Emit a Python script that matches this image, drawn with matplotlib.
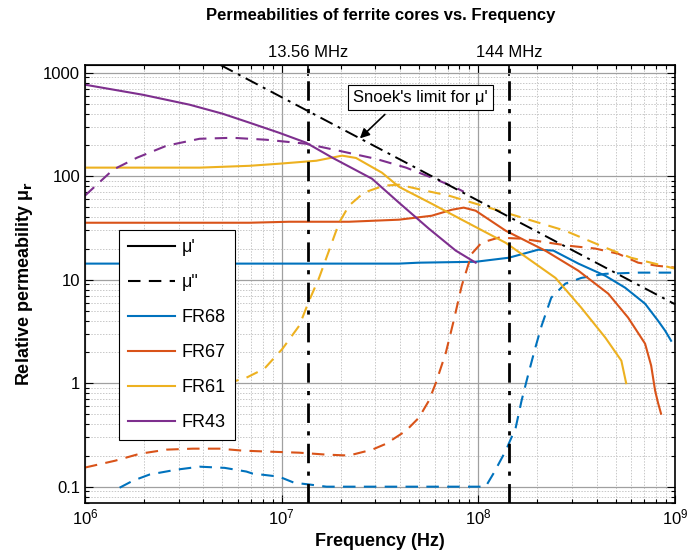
import numpy as np
import matplotlib
matplotlib.use('Agg')
import matplotlib.pyplot as plt
from matplotlib.lines import Line2D

plt.rcParams['font.family'] = ['Liberation Sans', 'DejaVu Sans']
plt.rcParams['mathtext.fontset'] = 'dejavusans'

# colours (MATLAB default order)
c_fr68 = '#0072BD'
c_fr67 = '#D95319'
c_fr61 = '#EDB120'
c_fr43 = '#7E2F8E'

# FR68
fr68_f1 = [1e6, 1.23e7, 3.95e7, 4.99e7, 9.7e7, 1.43e8, 2.02e8, 2.41e8, 3.23e8,
           4.43e8, 5.58e8, 7.05e8, 8.2e8, 8.91e8, 9.56e8]
fr68_mu1 = [14.3, 14.3, 14.3, 14.6, 14.9, 16.3, 19.5, 19.1, 14.3,
            10.9, 8.37, 5.86, 4.02, 3.22, 2.57]
fr68_f2 = [1.5e6, 1.75e6, 2.13e6, 2.92e6, 3.83e6, 5.13e6, 6.62e6, 7.1e6, 9.7e6,
           1.16e7, 1.38e7, 1.69e7, 1.09e8, 1.2e8, 1.38e8, 1.55e8, 1.66e8, 1.8e8,
           1.95e8, 2.1e8, 2.35e8, 2.77e8, 3.34e8, 4.43e8, 6.5e8, 1e9]
fr68_mu2 = [0.0977, 0.114, 0.131, 0.146, 0.156, 0.152, 0.14, 0.134, 0.125,
            0.109, 0.105, 0.1, 0.1, 0.136, 0.223, 0.372, 0.678, 1.24,
            2.2, 3.6, 6.7, 9.15, 10.4, 11.4, 11.7, 11.7]

# FR67
fr67_f1 = [1e6, 6.86e6, 1.09e7, 2.2e7, 3.95e7, 5.8e7, 7.33e7, 8.43e7, 9.7e7,
           1.38e8, 2.2e8, 3.23e8, 4.58e8, 5.78e8, 7.05e8, 7.57e8, 7.93e8, 8.2e8, 8.5e8]
fr67_mu1 = [35.5, 35.5, 36.3, 36.3, 38, 41.5, 47.4, 49.7, 46.4,
            29.7, 19, 12.2, 7.33, 4.3, 2.41, 1.48, 0.847, 0.649, 0.507]
fr67_f2 = [1e6, 1.42e6, 1.9e6, 2.6e6, 3.53e6, 4.83e6, 6.32e6, 8.67e6, 1.23e7,
           1.69e7, 2.2e7, 2.89e7, 3.4e7, 4.29e7, 4.99e7, 5.61e7, 6.09e7, 6.84e7,
           7.5e7, 8.24e7, 9.26e7, 1.04e8, 1.27e8, 1.66e8, 2.27e8, 2.87e8, 3.93e8,
           5.15e8, 6.5e8, 8.2e8, 1e9]
fr67_mu2 = [0.153, 0.178, 0.208, 0.228, 0.233, 0.233, 0.223, 0.218, 0.213,
            0.204, 0.2, 0.228, 0.26, 0.347, 0.464, 0.678, 1.01, 1.97,
            4.02, 8.75, 17.8, 22.8, 25.5, 24.9, 22.8, 21.3, 20,
            17.8, 14.6, 13.6, 13.1]

# FR61
fr61_f1 = [1e6, 2.13e6, 3.83e6, 6.86e6, 9.7e6, 1.5e7, 2.03e7, 2.39e7, 3.24e7,
           3.95e7, 5.8e7, 8.24e7, 1.38e8, 2.47e8, 3.34e8, 4.43e8, 5.34e8, 5.65e8]
fr61_mu1 = [121, 121, 121, 126, 132, 141, 158, 150, 108,
            79, 54.2, 38, 22.7, 10.4, 5.36, 2.75, 1.65, 1.0]
fr61_f2 = [5.25e6, 6.62e6, 8.17e6, 1.01e7, 1.23e7, 1.38e7, 1.55e7, 1.74e7, 1.96e7,
           2.2e7, 2.62e7, 3.31e7, 3.95e7, 5.4e7, 7.08e7, 1.13e8, 1.55e8, 2.77e8,
           4.43e8, 5.98e8, 1e9]
fr61_mu2 = [0.99, 1.13, 1.38, 2.15, 3.6, 6.27, 10.4, 19, 35.5,
            51.9, 69.3, 81, 82.8, 72.4, 64.9, 49.7, 41.5, 29.7,
            20.4, 16.3, 12.8]

# FR43
fr43_f1 = [1e6, 1.97e6, 3.4e6, 5e6, 6.86e6, 9.7e6, 1.33e7, 1.81e7, 2.88e7,
           3.95e7, 5.61e7, 7.68e7, 9.7e7]
fr43_mu1 = [766, 612, 491, 402, 329, 263, 211, 151, 94.6,
            55.5, 31.1, 19.1, 14.6]
fr43_f2 = [1e6, 1.39e6, 1.84e6, 2.6e6, 3.83e6, 5.63e6, 8.36e6, 1.33e7, 1.96e7,
           3.02e7, 4.29e7, 5.8e7, 7.68e7, 8.43e7]
fr43_mu2 = [64.9, 115.6, 151, 197, 230, 235, 225, 206, 176,
            147, 121, 96.8, 77.5, 70.8]

# Snoek's limit (mu' * f = const)
snoek_f = [4.9e6, 1e9]
snoek_k = 5.8e9

# marked frequencies
mark_f = [13.56e6, 144e6]
mark_labels = ['13.56 MHz', '144 MHz']

series = [
    ('FR68', c_fr68, fr68_f1, fr68_mu1, fr68_f2, fr68_mu2),
    ('FR67', c_fr67, fr67_f1, fr67_mu1, fr67_f2, fr67_mu2),
    ('FR61', c_fr61, fr61_f1, fr61_mu1, fr61_f2, fr61_mu2),
    ('FR43', c_fr43, fr43_f1, fr43_mu1, fr43_f2, fr43_mu2),
]


def main():
    fig = plt.figure(figsize=(6.88, 5.59), dpi=100)
    ax = fig.add_axes([0.1235, 0.1007, 0.8575, 0.7839])
    ax.set_xscale('log')
    ax.set_yscale('log')

    for name, col, f1, m1, f2, m2 in series:
        ax.plot(f1, m1, color=col, lw=1.5)
        ax.plot(f2, m2, color=col, lw=1.5, dashes=(6, 4))

    sf = np.array(snoek_f)
    ax.plot(sf, snoek_k / sf, color='k', lw=1.4, dashes=(7, 3, 1.5, 3))

    for f in mark_f:
        ax.axvline(f, color='k', lw=2, dashes=(7, 3, 1.5, 3))

    # label box and arrow pointing at the limit line
    ax.text(5.1e7, 574, "Snoek's limit for μ'", ha='center', va='center',
            fontsize=12, zorder=5,
            bbox=dict(boxstyle='square,pad=0.3', fc='white', ec='k', lw=0.8))
    ax.annotate('', xy=(2.5e7, snoek_k / 2.5e7), xytext=(3.35e7, 395),
                arrowprops=dict(arrowstyle='-|>', color='k', lw=1.2,
                                shrinkA=0, shrinkB=0, mutation_scale=14))

    ax.set_xlim(1e6, 1e9)
    ax.set_ylim(0.07, 1200)
    ax.set_yticks([0.1, 1, 10, 100, 1000])
    ax.set_yticklabels(['0.1', '1', '10', '100', '1000'])

    ax.grid(True, which='major', color='#a0a0a0', lw=0.9)
    ax.grid(True, which='minor', color='#c8c8c8', lw=0.7, ls=(0, (1.5, 1.5)))
    ax.tick_params(which='both', direction='in', top=True, right=True,
                   labelsize=12, width=0.8)
    ax.tick_params(which='major', length=6)
    ax.tick_params(which='minor', length=3)
    for s in ax.spines.values():
        s.set_linewidth(1.2)

    top = ax.secondary_xaxis('top')
    top.set_xticks(mark_f)
    top.set_xticklabels(mark_labels)
    top.xaxis.set_minor_locator(matplotlib.ticker.NullLocator())
    top.tick_params(direction='in', length=8, width=1.2, labelsize=12, pad=3)

    h = [Line2D([], [], color='k', lw=1.5),
         Line2D([], [], color='k', lw=1.5, dashes=(6, 4))]
    h += [Line2D([], [], color=s[1], lw=1.5) for s in series]
    labels = ["μ'", 'μ"'] + [s[0] for s in series]
    leg = ax.legend(h, labels, loc='lower left', bbox_to_anchor=(0.057, 0.142),
                    borderaxespad=0, fontsize=13, fancybox=False, framealpha=1,
                    edgecolor='k', handlelength=2.6, handletextpad=0.4,
                    labelspacing=1.0, borderpad=0.5)
    leg.get_frame().set_linewidth(0.8)

    ax.set_xlabel('Frequency (Hz)', fontsize=13, fontweight='bold', labelpad=4)
    ax.set_ylabel(r'Relative permeability μ$_\mathbf{r}$', fontsize=13,
                  fontweight='bold', labelpad=6)
    fig.text(0.553, 0.972, 'Permeabilities of ferrite cores vs. Frequency',
             ha='center', va='center', fontsize=12, fontweight='bold')

    fig.savefig('out.png', dpi=100)


if __name__ == '__main__':
    main()
